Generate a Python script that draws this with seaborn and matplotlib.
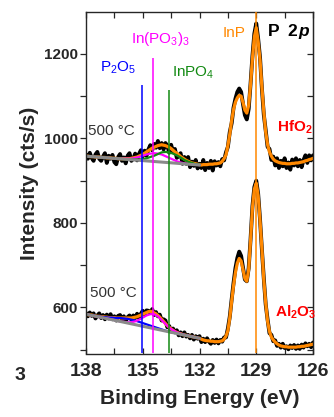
import numpy as np
import matplotlib
matplotlib.use("Agg")
import matplotlib.pyplot as plt
import seaborn as sns
from matplotlib.ticker import MultipleLocator

# P 2p XPS spectra, 500 C anneal, HfO2 (top) and Al2O3 (bottom) capped InP
energy = np.linspace(138, 126, 121)          # binding energy grid, 0.1 eV steps
energy_comp = np.linspace(138, 132, 31)      # component grid, 0.2 eV steps
energy_bg = [138, 132]

hfo2_data = [962, 952, 966, 954, 947, 962, 968, 952, 947, 957,
             965, 942, 959, 952, 961, 944, 939, 956, 963, 947,
             955, 941, 959, 965, 947, 952, 964, 948, 963, 972,
             958, 971, 959, 974, 984, 972, 987, 978, 994, 977,
             989, 974, 989, 983, 966, 985, 968, 975, 954, 958,
             965, 940, 956, 940, 956, 932, 945, 935, 949, 929,
             940, 930, 949, 925, 942, 930, 947, 924, 946, 936,
             944, 934, 951, 948, 967, 980, 1015, 1036, 1073, 1094,
             1110, 1118, 1110, 1081, 1055, 1045, 1070, 1130, 1196, 1248,
             1272, 1236, 1191, 1117, 1056, 1019, 980, 975, 949, 957,
             936, 953, 930, 947, 934, 953, 930, 943, 926, 950,
             936, 953, 934, 949, 932, 949, 960, 942, 960, 948, 960]
hfo2_fit = [958, 958, 957, 957, 957, 956, 956, 956, 955, 955,
            955, 954, 954, 954, 953, 953, 953, 952, 952, 952,
            952, 952, 952, 952, 953, 954, 955, 956, 958, 960,
            962, 965, 968, 971, 974, 977, 979, 981, 983, 984,
            985, 984, 983, 981, 979, 976, 972, 968, 965, 961,
            957, 954, 951, 948, 946, 944, 942, 941, 940, 939,
            938, 937, 938, 938, 938, 939, 939, 939, 940, 940,
            941, 942, 946, 952, 961, 983, 1010, 1042, 1069, 1086,
            1096, 1102, 1100, 1085, 1067, 1060, 1078, 1128, 1190, 1240,
            1262, 1230, 1186, 1120, 1062, 1015, 985, 968, 958, 951,
            947, 945, 943, 942, 941, 941, 940, 940, 940, 941,
            941, 942, 942, 943, 944, 945, 947, 948, 950, 951, 953]
hfo2_bg = [958, 937]
hfo2_inpo3 = [958, 957, 957, 956, 955, 955, 954, 953, 952, 952,
              952, 952, 952, 954, 956, 959, 962, 964, 965, 964,
              962, 958, 954, 950, 946, 943, 941, 940, 939, 938, 937]
hfo2_inpo4 = [958, 957, 957, 956, 955, 955, 954, 953, 952, 952,
              951, 950, 950, 950, 950, 951, 953, 956, 959, 963,
              967, 968, 967, 964, 960, 955, 949, 945, 942, 939, 938]

al2o3_data = [587, 579, 588, 580, 586, 574, 581, 586, 575, 582,
              572, 583, 574, 584, 572, 579, 569, 580, 582, 572,
              579, 568, 577, 581, 571, 581, 575, 585, 575, 585,
              592, 583, 593, 592, 587, 596, 582, 589, 579, 583,
              569, 572, 569, 553, 556, 543, 550, 541, 546, 534,
              541, 532, 541, 531, 535, 527, 535, 524, 532, 526,
              532, 518, 526, 518, 527, 519, 514, 523, 516, 524,
              515, 523, 519, 529, 529, 550, 578, 619, 658, 693,
              717, 732, 722, 694, 666, 662, 693, 762, 840, 885,
              900, 869, 808, 736, 668, 607, 571, 539, 535, 520,
              522, 509, 514, 505, 514, 504, 508, 501, 510, 504,
              511, 502, 510, 502, 512, 505, 515, 508, 514, 506, 517]
al2o3_fit = [584, 583, 582, 582, 581, 580, 579, 579, 578, 578,
             577, 577, 576, 576, 576, 576, 575, 575, 575, 575,
             575, 575, 575, 575, 575, 576, 577, 578, 580, 582,
             584, 586, 588, 590, 591, 590, 587, 585, 581, 577,
             572, 567, 562, 557, 553, 549, 546, 543, 541, 539,
             538, 536, 535, 534, 533, 532, 531, 530, 529, 528,
             527, 525, 523, 522, 521, 521, 520, 520, 519, 519,
             519, 520, 521, 525, 532, 545, 575, 615, 652, 683,
             705, 716, 710, 690, 668, 662, 690, 760, 836, 880,
             894, 865, 805, 738, 665, 610, 567, 543, 530, 523,
             518, 514, 511, 509, 508, 507, 507, 506, 506, 506,
             506, 506, 507, 507, 508, 508, 509, 510, 511, 512, 513]
al2o3_bg = [584, 527]
al2o3_p2o5 = [584, 582, 581, 579, 578, 577, 576, 576, 575, 575,
              574, 573, 571, 569, 566, 563, 560, 557, 554, 551,
              548, 545, 543, 541, 539, 537, 535, 533, 531, 529, 527]
al2o3_inpo3 = [584, 582, 580, 578, 576, 575, 573, 571, 569, 567,
               566, 565, 565, 567, 571, 576, 581, 584, 584, 579,
               570, 561, 552, 546, 541, 538, 535, 533, 531, 529, 527]

# reference binding energies of the chemical states
ref_names = ["P$_2$O$_5$", "In(PO$_3$)$_3$", "InPO$_4$", "InP"]
ref_energy = [135.05, 134.47, 133.6, 129.0]
ref_top = [1127, 1190, 1115, 1300]

c_orange = "#ff8800"
c_magenta = "#ff00ff"
c_green = "#138a13"
c_blue = "#0000ff"
c_gray = "#8a8a8a"
ref_colors = [c_blue, c_magenta, c_green, c_orange]

sns.set_style("ticks")
plt.rcParams["font.family"] = ["Liberation Sans", "DejaVu Sans"]
plt.rcParams["mathtext.fontset"] = "custom"
plt.rcParams["mathtext.rm"] = "Liberation Sans"
plt.rcParams["mathtext.it"] = "Liberation Sans:italic"
plt.rcParams["mathtext.bf"] = "Liberation Sans:bold"

fig = plt.figure(figsize=(3.34, 4.17), dpi=100)
fig.patch.set_facecolor("white")
ax = fig.add_axes([86 / 334, 1 - 353.5 / 417, 227 / 334, 341 / 417])

for data, fit in [(hfo2_data, hfo2_fit), (al2o3_data, al2o3_fit)]:
    sns.lineplot(x=energy, y=data, ax=ax, color="black", linewidth=2.8,
                 sort=False, estimator=None)
    sns.lineplot(x=energy, y=fit, ax=ax, color=c_orange, linewidth=2.3,
                 sort=False, estimator=None)

sns.lineplot(x=energy_comp, y=hfo2_inpo3, ax=ax, color=c_magenta, lw=1.6,
             sort=False, estimator=None)
sns.lineplot(x=energy_comp, y=hfo2_inpo4, ax=ax, color=c_green, lw=1.6,
             sort=False, estimator=None)
sns.lineplot(x=energy_comp, y=al2o3_p2o5, ax=ax, color=c_blue, lw=1.6,
             sort=False, estimator=None)
sns.lineplot(x=energy_comp, y=al2o3_inpo3, ax=ax, color=c_magenta, lw=1.6,
             sort=False, estimator=None)
sns.lineplot(x=energy_bg, y=hfo2_bg, ax=ax, color=c_gray, lw=2.2,
             sort=False, estimator=None)
sns.lineplot(x=energy_bg, y=al2o3_bg, ax=ax, color=c_gray, lw=2.2,
             sort=False, estimator=None)

ax.set_xlim(138, 126)
ax.set_ylim(491, 1298)
ax.vlines(ref_energy, 491, ref_top, colors=ref_colors, linewidth=1.1, zorder=5)

# labels of the chemical states
ax.text(137.26, 1157, ref_names[0], color=c_blue, fontsize=11)
ax.text(135.62, 1226, ref_names[1], color=c_magenta, fontsize=11)
ax.text(133.45, 1146, ref_names[2], color=c_green, fontsize=11)
ax.text(130.76, 1240, ref_names[3], color=c_orange, fontsize=11)
ax.text(128.38, 1243, "P", color="black", fontsize=12.5, fontweight="bold")
ax.text(127.36, 1243, "2", color="black", fontsize=12.5, fontweight="bold")
ax.text(126.76, 1243, "p", color="black", fontsize=12.5, fontweight="bold",
        fontstyle="italic")
ax.text(137.9, 1008, "500 °C", color="#333333", fontsize=11)
ax.text(137.79, 625, "500 °C", color="#333333", fontsize=11)
ax.text(127.92, 1015, r"HfO$_\mathbf{2}$", color="red", fontsize=11,
        fontweight="bold")
ax.text(128.0, 578, r"Al$_\mathbf{2}$O$_\mathbf{3}$", color="red",
        fontsize=11, fontweight="bold")

ax.xaxis.set_major_locator(MultipleLocator(3))
ax.xaxis.set_minor_locator(MultipleLocator(1.5))
ax.yaxis.set_major_locator(MultipleLocator(200))
ax.yaxis.set_minor_locator(MultipleLocator(100))
ax.tick_params(axis="x", which="both", direction="in", top=True, length=4.5,
               width=0.9, pad=7, labelsize=14)
ax.tick_params(axis="y", which="both", direction="out", left=True, right=False,
               length=4, width=0.9, pad=1.5, labelsize=11)
for lab in ax.get_xticklabels() + ax.get_yticklabels():
    lab.set_fontweight("bold")

right = ax.secondary_yaxis("right")
right.yaxis.set_major_locator(MultipleLocator(200))
right.yaxis.set_minor_locator(MultipleLocator(100))
right.tick_params(which="both", direction="in", length=4, width=0.9,
                  labelright=False)

for sp in ax.spines.values():
    sp.set_linewidth(1.0)
    sp.set_visible(True)

ax.set_xlabel("Binding Energy (eV)", fontsize=15, fontweight="bold", labelpad=6)
ax.set_ylabel("Intensity (cts/s)", fontsize=15, fontweight="bold", labelpad=4)

fig.text(25 / 334, 1 - 380 / 417, "3", fontsize=14, fontweight="bold",
         ha="right", va="baseline")

fig.savefig("out.png", dpi=100)
